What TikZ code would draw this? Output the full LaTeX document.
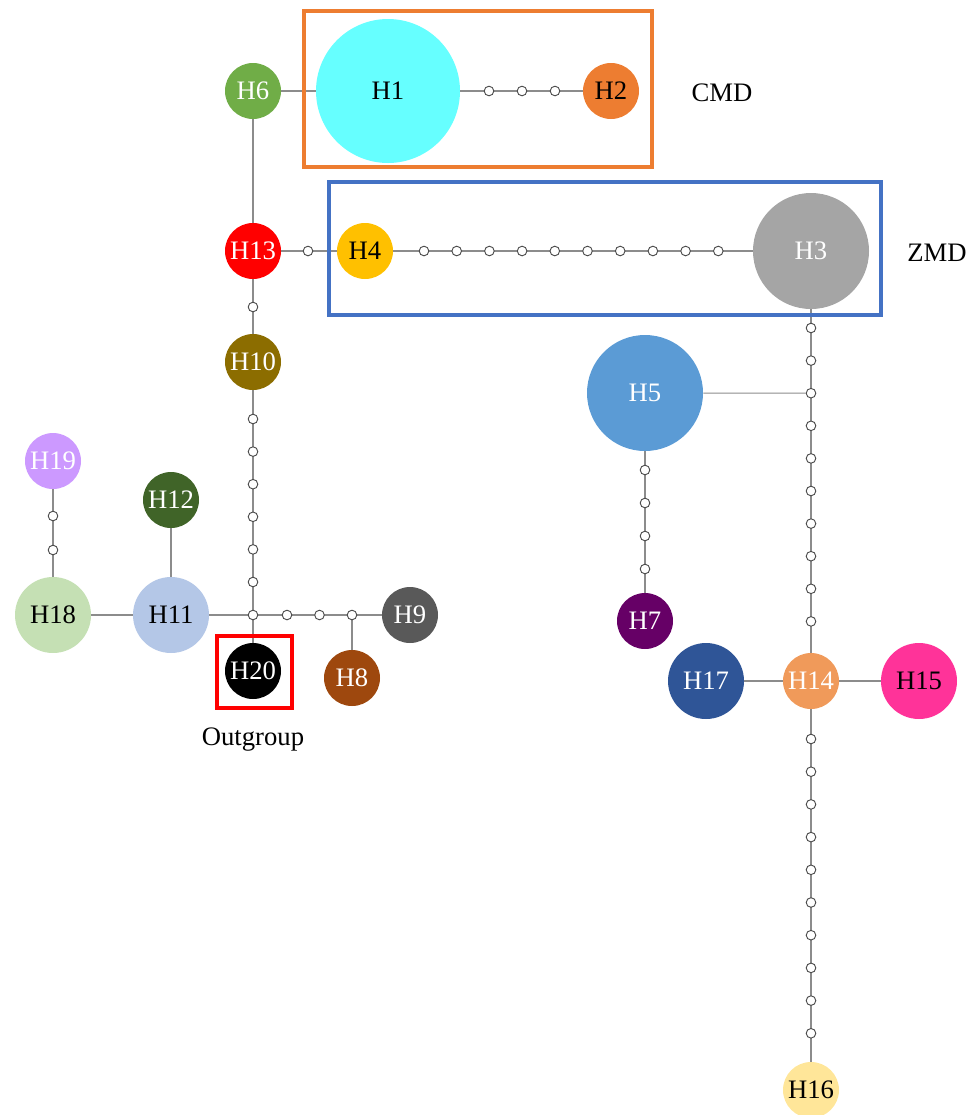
\documentclass[tikz,border=0pt]{standalone}
\usepackage{fontspec}
\setmainfont{Liberation Serif}
\usetikzlibrary{backgrounds}
\colorlet{linkgray}{black!45}
\colorlet{mutgray}{black!70}
\definecolor{hone}{HTML}{66FFFF}
\definecolor{htwo}{HTML}{ED7D31}
\definecolor{hthree}{HTML}{A5A5A5}
\definecolor{hfour}{HTML}{FFC000}
\definecolor{hfive}{HTML}{5B9BD5}
\definecolor{hsix}{HTML}{70AD47}
\definecolor{hseven}{HTML}{660066}
\definecolor{height}{HTML}{9E480E}
\definecolor{hnine}{HTML}{595959}
\definecolor{hten}{HTML}{8C6D00}
\definecolor{heleven}{HTML}{B4C7E7}
\definecolor{htwelve}{HTML}{406428}
\definecolor{hthirteen}{HTML}{FF0000}
\definecolor{hfourteen}{HTML}{F09A5A}
\definecolor{hfifteen}{HTML}{FF3399}
\definecolor{hsixteen}{HTML}{FFE699}
\definecolor{hseventeen}{HTML}{2F5597}
\definecolor{heighteen}{HTML}{C5E0B4}
\definecolor{hnineteen}{HTML}{CC99FF}
\definecolor{cmdbox}{HTML}{ED7D31}
\definecolor{zmdbox}{HTML}{4472C4}
\tikzset{
    hap/.style={circle, draw=none, inner sep=0pt, font=\fontsize{20}{22}\selectfont},
    hapS/.style={hap, minimum size=42pt},
    hapM/.style={hap, minimum size=57pt},
    hapL/.style={hap, minimum size=87pt},
    mut/.style={circle, draw=mutgray, fill=white, line width=0.7pt, minimum size=7.2pt, inner sep=0pt},
    link/.style={draw=linkgray, line width=0.8pt},
    groupbox/.style={line width=2.3pt}
}

\begin{document}
\begin{tikzpicture}[x=0.75pt, y=-0.75pt]
        \useasboundingbox (0,0) rectangle (968,1115);
        % groups
        \draw[groupbox][cmdbox] (304,11) rectangle (652,167);
        \draw[groupbox][zmdbox] (329,182) rectangle (881,315);
        \draw[groupbox][red] (217,636) rectangle (292,708);
        \node[font=\fontsize{20}{22}\selectfont] (cmd) at (722,93) {CMD};
        \node[font=\fontsize{20}{22}\selectfont] (zmd) at (937,253) {ZMD};
        % haplotypes
        \node[hap][fill=hone, minimum size=108pt] (H1) at (388,91) {H1};
        \node[hapS][fill=htwo] (H2) at (611,91) {H2};
        \node[hapL][fill=hthree, text=white] (H3) at (811,251) {H3};
        \node[hapS][fill=hfour] (H4) at (365,251) {H4};
        \node[hapL][fill=hfive, text=white] (H5) at (645,393) {H5};
        \node[hapS][fill=hsix, text=white] (H6) at (253,91) {H6};
        \node[hapS][fill=hseven, text=white] (H7) at (645,621) {H7};
        \node[hapS][fill=height, text=white] (H8) at (352,678) {H8};
        \node[hapS][fill=hnine, text=white] (H9) at (410,615) {H9};
        \node[hapS][fill=hten, text=white] (H10) at (253,362) {H10};
        \node[hapM][fill=heleven] (H11) at (171,615) {H11};
        \node[hapS][fill=htwelve, text=white] (H12) at (171,500) {H12};
        \node[hapS][fill=hthirteen, text=white] (H13) at (253,251) {H13};
        \node[hapS][fill=hfourteen, text=white] (H14) at (811,681) {H14};
        \node[hapM][fill=hfifteen] (H15) at (919,681) {H15};
        \node[hapS][fill=hsixteen] (H16) at (811,1090) {H16};
        \node[hapM][fill=hseventeen, text=white] (H17) at (706,681) {H17};
        \node[hapM][fill=heighteen] (H18) at (53,615) {H18};
        \node[hapS][fill=hnineteen, text=white] (H19) at (53,461) {H19};
        \node[hapS][fill=black, text=white] (H20) at (253,671) {H20};
        \node[font=\fontsize{20}{22}\selectfont] (out) at (253,740) {Outgroup};
        % median vectors
        \node[mut] (mA) at (308,251) {};
        \node[mut] (mB) at (253,307) {};
        \node[mut] (J1) at (253,615) {};
        \foreach \i in {1,2,3}
        {
            \node[mut] (m12-\i) at ({456+33*\i},91) {};
        }
        \foreach \i in {0,...,9}
        {
            \node[mut] (m43-\i) at ({424+32.7*\i},251) {};
        }
        \foreach \i in {0,...,5}
        {
            \node[mut] (m10-\i) at (253,{419+32.6*\i}) {};
        }
        \foreach \i in {0,1,2}
        {
            \node[mut] (m9-\i) at ({287+32.5*\i},615) {};
        }
        \foreach \i in {0,1}
        {
            \node[mut] (m19-\i) at (53,{516+34*\i}) {};
        }
        \foreach \i in {0,...,9}
        {
            \node[mut] (m3-\i) at (811,{328+32.6*\i}) {};
        }
        \foreach \i in {0,...,3}
        {
            \node[mut] (m7-\i) at (645,{470+33*\i}) {};
        }
        \foreach \i in {0,...,9}
        {
            \node[mut] (m16-\i) at (811,{739+32.7*\i}) {};
        }
        % links
        \begin{pgfonlayer}{background}
            \draw[link] (H6) -- (H1);
            \draw[link] (H1) -- (H2);
            \draw[link] (H6) -- (H13);
            \draw[link] (H13) -- (H4);
            \draw[link] (H4) -- (H3);
            \draw[link] (H13) -- (H10);
            \draw[link] (H10) -- (J1);
            \draw[link] (J1) -- (H20);
            \draw[link] (H18) -- (H11);
            \draw[link] (H11) -- (H9);
            \draw[link] (H11) -- (H12);
            \draw[link] (H19) -- (H18);
            \draw[link] (m9-2) -- (H8);
            \draw[link] (H3) -- (H14);
            \draw[link] (H5) -- (m3-2);
            \draw[link] (H5) -- (H7);
            \draw[link] (H17) -- (H15);
            \draw[link] (H14) -- (H16);
        \end{pgfonlayer}
    \end{tikzpicture}
\end{document}
